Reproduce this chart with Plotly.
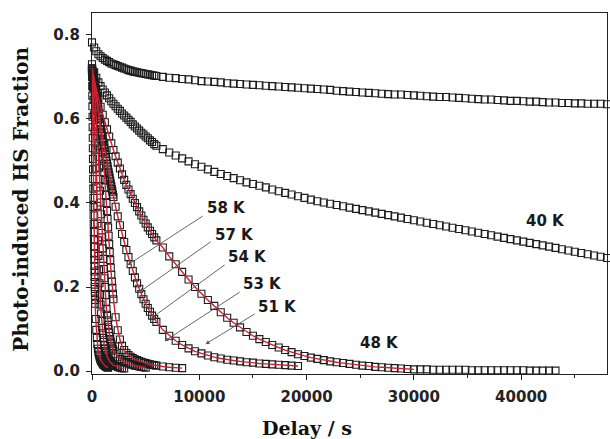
import plotly.graph_objects as go

# ---------------- delay grids (s) ----------------
GRID_SLOW = [0, 200, 400, 600, 800, 1000, 1200, 1400, 1600, 1800, 2000, 2200, 2400, 2600, 2800,
             3000, 3200, 3400, 3600, 3800, 4000, 4200, 4400, 4600, 4800, 5000, 5200, 5400, 5600,
             5800, 6000,
             6600, 7200, 7800, 8400, 9000, 9600, 10200, 10800, 11400, 12000, 12600, 13200, 13800,
             14400, 15000, 15600, 16200, 16800, 17400, 18000, 18600, 19200, 19800, 20400, 21000,
             21600, 22200, 22800, 23400, 24000, 24600, 25200, 25800, 26400, 27000, 27600, 28200,
             28800, 29400, 30000, 30600, 31200, 31800, 32400, 33000, 33600, 34200, 34800, 35400,
             36000, 36600, 37200, 37800, 38400, 39000, 39600, 40200, 40800, 41400, 42000, 42600,
             43200, 43800, 44400, 45000, 45600, 46200, 46800, 47400, 48000]

GRID_FAST = [0, 50, 100, 150, 200, 250, 300, 350, 400, 450, 500, 550, 600, 650, 700, 750, 800,
             850, 900, 950, 1000, 1050, 1100, 1150, 1200, 1250, 1300, 1350, 1400, 1450, 1500,
             1550, 1600, 1650, 1700, 1750, 1800, 1850, 1900, 1950, 2000,
             2200, 2400, 2600, 2800, 3000, 3200, 3400, 3600, 3800, 4000, 4200, 4400, 4600, 4800,
             5000, 5200, 5400, 5600, 5800, 6000,
             6600, 7200, 7800, 8400, 9000, 9600, 10200, 10800, 11400, 12000, 12600, 13200, 13800,
             14400, 15000, 15600, 16200, 16800, 17400, 18000, 18600, 19200]

GRID_58K = [0, 10, 20, 30, 40, 50, 60, 70, 80, 90, 100, 110, 120, 130, 140, 150, 160, 170, 180,
            190, 200, 210, 220, 230, 240, 250, 260, 270, 280, 290, 300,
            350, 400, 450, 500, 550, 600, 650, 700, 750, 800, 850, 900, 950, 1000, 1050, 1100,
            1150, 1200, 1250, 1300, 1350, 1400, 1450, 1500]

# ---------------- HS fraction values ----------------
HS_TOP = [0.782, 0.770, 0.761, 0.754, 0.749, 0.745, 0.741, 0.738, 0.735, 0.732, 0.730, 0.728,
          0.726, 0.724, 0.722, 0.720, 0.718, 0.716, 0.715, 0.713, 0.712, 0.711, 0.710, 0.709,
          0.708, 0.707, 0.706, 0.705, 0.704, 0.703, 0.702,
          0.700, 0.698, 0.697, 0.695, 0.694, 0.692, 0.690, 0.689,
          0.688, 0.687, 0.685, 0.684, 0.683, 0.682, 0.681, 0.680, 0.679, 0.678,
          0.677, 0.676, 0.675, 0.674, 0.673, 0.672, 0.671, 0.670, 0.669, 0.667,
          0.666, 0.665, 0.664, 0.663, 0.662, 0.661, 0.660, 0.659, 0.658, 0.658,
          0.657, 0.656, 0.655, 0.654, 0.653, 0.652, 0.652, 0.651, 0.650, 0.649,
          0.648, 0.647, 0.646, 0.646, 0.645, 0.644, 0.643, 0.643, 0.642, 0.641,
          0.641, 0.640, 0.639, 0.639, 0.638, 0.638, 0.637, 0.637, 0.636, 0.636,
          0.636, 0.635]

HS_40K = [0.730, 0.711, 0.698, 0.687, 0.678, 0.670, 0.663, 0.656, 0.649, 0.642, 0.636, 0.630,
          0.624, 0.619, 0.613, 0.608, 0.603, 0.598, 0.593, 0.587, 0.582, 0.577, 0.572, 0.567,
          0.563, 0.558, 0.554, 0.549, 0.545, 0.540, 0.536,
          0.528, 0.520, 0.513, 0.506, 0.499, 0.492, 0.486, 0.480,
          0.474, 0.469, 0.464, 0.459, 0.454, 0.449, 0.445, 0.441, 0.437, 0.432,
          0.428, 0.424, 0.420, 0.416, 0.412, 0.408, 0.404, 0.401, 0.398, 0.395,
          0.392, 0.389, 0.386, 0.383, 0.380, 0.377, 0.374, 0.371, 0.368, 0.365,
          0.362, 0.359, 0.356, 0.353, 0.350, 0.347, 0.344, 0.341, 0.338, 0.335,
          0.332, 0.329, 0.326, 0.323, 0.320, 0.317, 0.314, 0.311, 0.308, 0.305,
          0.302, 0.299, 0.296, 0.293, 0.290, 0.287, 0.284, 0.281, 0.278, 0.275,
          0.272, 0.269]

HS_48K = [0.715, 0.692, 0.670, 0.649, 0.629, 0.610, 0.592, 0.575, 0.558, 0.542, 0.526, 0.511,
          0.496, 0.482, 0.468, 0.455, 0.443, 0.432, 0.421, 0.410, 0.400, 0.390, 0.380, 0.370,
          0.360, 0.351, 0.342, 0.334, 0.326, 0.318, 0.311,
          0.294, 0.273, 0.254, 0.236, 0.218, 0.200, 0.184, 0.169, 0.155, 0.140,
          0.127, 0.115, 0.104, 0.093, 0.084, 0.076, 0.069, 0.062, 0.056, 0.050,
          0.045, 0.040, 0.036, 0.032, 0.029, 0.026, 0.023, 0.021, 0.019, 0.017,
          0.015, 0.013, 0.012, 0.010, 0.009, 0.008, 0.007, 0.006, 0.005, 0.004,
          0.004, 0.004, 0.003, 0.003, 0.003, 0.003, 0.003, 0.003, 0.002, 0.002,
          0.002, 0.002, 0.002, 0.002, 0.002, 0.002, 0.002, 0.001, 0.001, 0.001,
          0.001, 0.001]
FIT_48K_END = 30000

HS_51K = [0.715, 0.706, 0.698, 0.689, 0.681, 0.672, 0.664, 0.655, 0.647, 0.639, 0.631, 0.623,
          0.615, 0.607, 0.599, 0.591, 0.583, 0.576, 0.568, 0.560, 0.553, 0.545, 0.538, 0.530,
          0.523, 0.516, 0.509, 0.501, 0.494, 0.487, 0.480, 0.473, 0.467, 0.460, 0.453, 0.446,
          0.440, 0.433, 0.427, 0.420, 0.414,
          0.391, 0.368, 0.347, 0.326, 0.307, 0.288, 0.271, 0.254, 0.238, 0.223, 0.209, 0.196,
          0.183, 0.171, 0.160, 0.150, 0.141, 0.132, 0.124, 0.117,
          0.098, 0.084, 0.072, 0.062, 0.054, 0.047, 0.042, 0.037, 0.033, 0.030, 0.027, 0.025,
          0.023, 0.021, 0.020, 0.018, 0.017, 0.016, 0.015, 0.014, 0.013, 0.012]

HS_53K = [0.720, 0.715, 0.709, 0.703, 0.696, 0.689, 0.681, 0.673, 0.664, 0.655, 0.645, 0.635,
          0.624, 0.613, 0.601, 0.589, 0.576, 0.563, 0.549, 0.535, 0.520, 0.505, 0.489, 0.472,
          0.455, 0.437, 0.419, 0.400, 0.381, 0.362, 0.342, 0.322, 0.302, 0.283, 0.264, 0.246,
          0.229, 0.213, 0.198, 0.184, 0.171,
          0.128, 0.097, 0.075, 0.060, 0.050, 0.043, 0.038, 0.034, 0.031, 0.028, 0.026, 0.024,
          0.022, 0.020, 0.019, 0.017, 0.016, 0.015, 0.014, 0.013,
          0.011, 0.009, 0.008, 0.007]

HS_54K = [0.720, 0.710, 0.699, 0.687, 0.673, 0.658, 0.641, 0.623, 0.603, 0.582, 0.559, 0.535,
          0.510, 0.484, 0.457, 0.429, 0.401, 0.373, 0.345, 0.318, 0.292, 0.267, 0.243, 0.221,
          0.200, 0.181, 0.164, 0.148, 0.134, 0.121, 0.110, 0.100, 0.091, 0.083, 0.076, 0.070,
          0.065, 0.060, 0.056, 0.052, 0.049,
          0.040, 0.034, 0.029, 0.025, 0.022, 0.020, 0.018, 0.016, 0.015, 0.013, 0.012, 0.011,
          0.010, 0.009, 0.008]

HS_57K = [0.720, 0.700, 0.675, 0.645, 0.610, 0.570, 0.527, 0.482, 0.437, 0.393, 0.351, 0.311,
          0.274, 0.240, 0.209, 0.182, 0.158, 0.137, 0.119, 0.103, 0.090, 0.079, 0.069, 0.061,
          0.054, 0.048, 0.043, 0.039, 0.035, 0.032, 0.029, 0.027, 0.025, 0.023, 0.021, 0.020,
          0.018, 0.017, 0.016, 0.015, 0.014,
          0.012, 0.010, 0.008, 0.007, 0.006]

HS_58K = [0.720, 0.700, 0.678, 0.655, 0.630, 0.605, 0.580, 0.555, 0.530, 0.505, 0.480, 0.457,
          0.434, 0.412, 0.390, 0.370, 0.350, 0.331, 0.313, 0.296, 0.280, 0.265, 0.250, 0.237,
          0.224, 0.212, 0.200, 0.189, 0.179, 0.169, 0.160,
          0.124, 0.098, 0.079, 0.064, 0.053, 0.045, 0.039, 0.034, 0.030, 0.027, 0.024, 0.022,
          0.020, 0.018, 0.016, 0.015, 0.014, 0.013, 0.012, 0.011, 0.010, 0.009, 0.009, 0.008]

# ---------------- labels ----------------
LABEL_TEXT = ["58 K", "57 K", "54 K", "53 K", "51 K", "48 K", "40 K"]
LABEL_T = [12500, 13250, 14450, 15850, 17300, 26800, 42300]
LABEL_V = [0.388, 0.324, 0.271, 0.207, 0.152, 0.067, 0.356]
ARROW_TAIL_T = [10450, 11200, 12500, 13900, 15300]
ARROW_TAIL_V = [0.371, 0.310, 0.255, 0.190, 0.138]
ARROW_TIP_T = [3300, 4420, 5540, 6750, 10580]
ARROW_TIP_V = [0.252, 0.188, 0.126, 0.071, 0.064]

MARK_COLOR = "#1c1c1c"
FIT_COLOR = "#cc2030"
SANS = "DejaVu Sans"
SERIF = "DejaVu Serif"

fig = go.Figure()

marker_series = [
    (GRID_SLOW, HS_TOP), (GRID_SLOW, HS_40K), (GRID_SLOW, HS_48K),
    (GRID_FAST, HS_51K), (GRID_FAST, HS_53K), (GRID_FAST, HS_54K),
    (GRID_FAST, HS_57K), (GRID_58K, HS_58K),
]
for grid, vals in marker_series:
    assert len(vals) <= len(grid)
    fig.add_trace(go.Scatter(
        x=grid[:len(vals)], y=vals, mode="markers", cliponaxis=False,
        marker=dict(symbol="square-open", size=7, color=MARK_COLOR, line=dict(width=1.1)),
        showlegend=False, hoverinfo="skip"))

fit_series = [
    ([t for t in GRID_SLOW[:len(HS_48K)] if t <= FIT_48K_END], HS_48K),
    (GRID_FAST, HS_51K), (GRID_FAST, HS_53K), (GRID_FAST, HS_54K),
    (GRID_FAST, HS_57K), (GRID_58K, HS_58K),
]
for ts, vals in fit_series:
    n = min(len(ts), len(vals))
    fig.add_trace(go.Scatter(
        x=ts[:n], y=vals[:n], mode="lines", line=dict(color=FIT_COLOR, width=1.4),
        showlegend=False, hoverinfo="skip"))

annotations = []
for txt, t, v in zip(LABEL_TEXT, LABEL_T, LABEL_V):
    annotations.append(dict(x=t, y=v, xref="x", yref="y", text=txt, showarrow=False,
                            font=dict(family=SANS, size=15, color="#1a1a1a", weight="bold")))
for at, av, tt, tv in zip(ARROW_TAIL_T, ARROW_TAIL_V, ARROW_TIP_T, ARROW_TIP_V):
    annotations.append(dict(x=tt, y=tv, ax=at, ay=av, xref="x", yref="y", axref="x",
                            ayref="y", text="", showarrow=True, arrowhead=2, arrowsize=0.9,
                            arrowwidth=0.9, arrowcolor="#555555"))
annotations.append(dict(x=0.417, y=-0.15, xref="paper", yref="paper", text="Delay / s",
                        showarrow=False, xanchor="center", yanchor="middle",
                        font=dict(family=SERIF, size=19, color="#111", weight="bold")))
annotations.append(dict(x=-0.138, y=0.485, xref="paper", yref="paper",
                        text="Photo-induced HS Fraction", textangle=-90, showarrow=False,
                        xanchor="center", yanchor="middle",
                        font=dict(family=SERIF, size=20, color="#111", weight="bold")))

tickfont = dict(family=SANS, size=15, color="#222", weight="bold")
fig.update_layout(
    width=610, height=439,
    margin=dict(l=92, r=3, t=13, b=65),
    paper_bgcolor="white", plot_bgcolor="white",
    annotations=annotations,
    xaxis=dict(range=[0, 48000], tickmode="linear", tick0=0, dtick=10000, tickformat="d",
               ticks="outside", ticklen=5, tickwidth=1, tickcolor="#222",
               minor=dict(dtick=5000, ticks="outside", ticklen=3, tickcolor="#222"),
               showline=True, mirror=True, linecolor="#222", linewidth=1.2,
               showgrid=False, zeroline=False, tickfont=tickfont, ticklabelstandoff=4),
    yaxis=dict(range=[-0.007, 0.852], tickmode="linear", tick0=0, dtick=0.2,
               tickformat=".1f", ticks="outside", ticklen=5, tickwidth=1, tickcolor="#222",
               showline=True, mirror=True, linecolor="#222", linewidth=1.2,
               showgrid=False, zeroline=False, tickfont=tickfont, ticklabelstandoff=3),
)

fig.write_html("out.html")
